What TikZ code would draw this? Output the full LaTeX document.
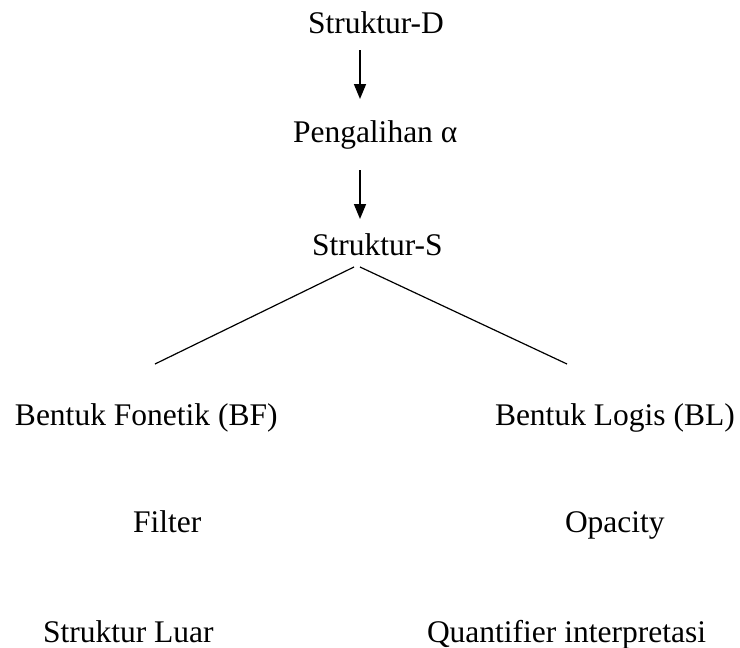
\documentclass[tikz,border=0pt]{standalone}
\usepackage{fontspec}
\setmainfont{Liberation Serif}
\usetikzlibrary{arrows.meta}
\begin{document}
\begin{tikzpicture}[x=1pt,y=-1pt,
  lbl/.style={anchor=base west,inner sep=0pt,outer sep=0pt,font=\fontsize{31.5}{38}\selectfont},
  arr/.style={line width=1.6pt,-{Triangle[length=15pt,width=12pt]}},
  branch/.style={line width=1.2pt}]
\useasboundingbox[fill=white] (0,0) rectangle (740,648);
\node[lbl] (sd) at (308,33) {Struktur-D};
\node[lbl] (pa) at (293,142) {Pengalihan α};
\node[lbl] (ss) at (312,255) {Struktur-S};
\node[lbl] (bf) at (15,425) {Bentuk Fonetik (BF)};
\node[lbl] (bl) at (495,425) {Bentuk Logis (BL)};
\node[lbl] (fi) at (133,532) {Filter};
\node[lbl] (op) at (565,532) {Opacity};
\node[lbl] (sl) at (43,642) {Struktur Luar};
\node[lbl] (qi) at (427,642) {Quantifier interpretasi};
\coordinate (a1s) at (360,50);
\coordinate (a1e) at (360,99);
\coordinate (a2s) at (360,170);
\coordinate (a2e) at (360,219);
\coordinate (ssl) at (354,267);
\coordinate (ssr) at (360,267);
\coordinate (bft) at (155,364);
\coordinate (blt) at (567,364);
\draw[arr] (a1s) -- (a1e);
\draw[arr] (a2s) -- (a2e);
\draw[branch] (ssl) -- (bft);
\draw[branch] (ssr) -- (blt);
\end{tikzpicture}
\end{document}
